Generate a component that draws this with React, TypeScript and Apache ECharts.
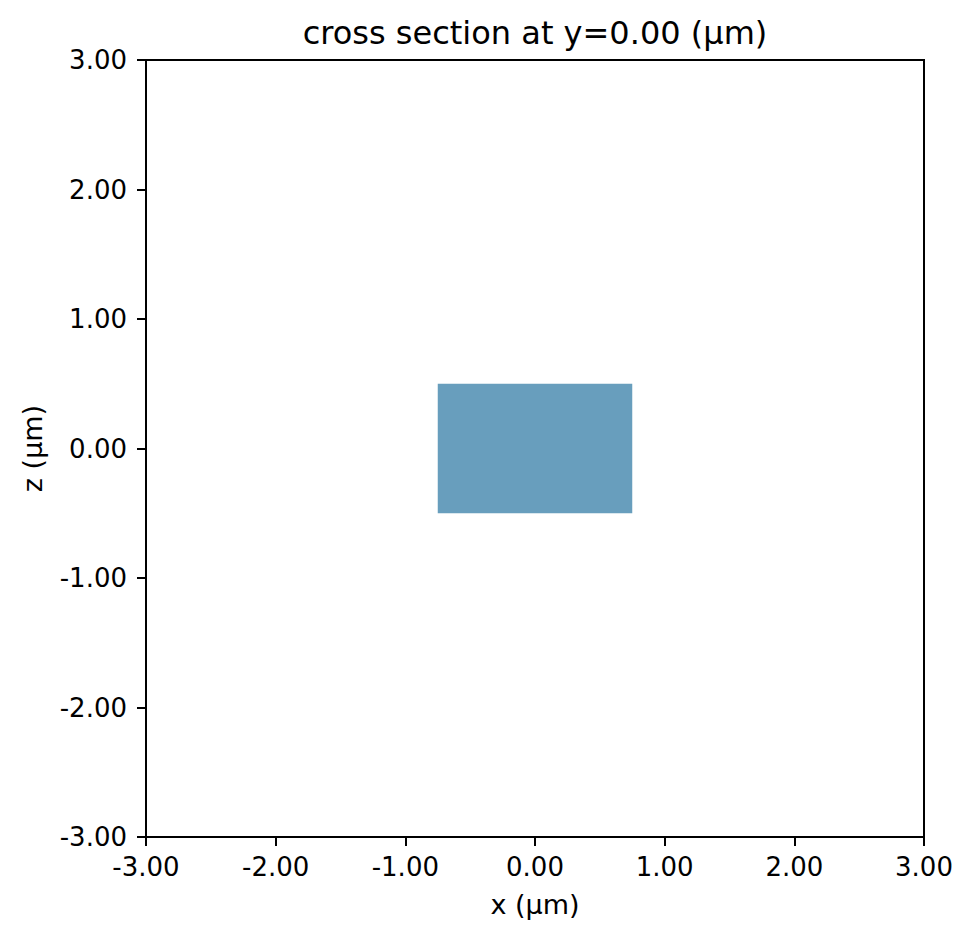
import React, { useEffect, useRef } from "react";
import * as echarts from "echarts";

// structure bounds in µm: [xMin, xMax, zMin, zMax]
const boxes = [[-0.75, 0.75, -0.5, 0.5]];
const boxColors = ["#689EBD"];
const xRange = [-3, 3];
const zRange = [-3, 3];
const titleText = "cross section at y=0.00 (µm)";
const xName = "x (µm)";
const zName = "z (µm)";

const FONT = "DejaVu Sans";

const App: React.FC = () => {
  const chartRef = useRef<HTMLDivElement>(null);

  useEffect(() => {
    document.body.style.margin = "0";
    const chart = echarts.init(chartRef.current!, undefined, { renderer: "svg" });

    const axisCommon = {
      type: "value" as const,
      interval: 1,
      axisLine: { show: true, onZero: false, lineStyle: { color: "#000", width: 2 } },
      axisTick: { show: true, length: 9, lineStyle: { color: "#000", width: 2 } },
      splitLine: { show: false },
      nameLocation: "middle" as const,
      nameTextStyle: { fontFamily: FONT, fontSize: 27, color: "#000" },
    };

    chart.setOption({
      animation: false,
      backgroundColor: "#fff",
      title: {
        text: titleText,
        left: 535,
        top: 17,
        padding: 0,
        textAlign: "center",
        textStyle: { fontFamily: FONT, fontSize: 32, fontWeight: "normal", color: "#000" },
      },
      grid: {
        left: 146,
        top: 60,
        width: 778,
        height: 777,
        show: true,
        borderColor: "#000",
        borderWidth: 2,
        backgroundColor: "transparent",
      },
      xAxis: {
        ...axisCommon,
        min: xRange[0],
        max: xRange[1],
        name: xName,
        nameGap: 54,
        axisLabel: {
          fontFamily: FONT,
          fontSize: 26,
          color: "#000",
          margin: 17,
          formatter: (v: number) => v.toFixed(2),
        },
      },
      yAxis: {
        ...axisCommon,
        min: zRange[0],
        max: zRange[1],
        name: zName,
        nameGap: 100,
        axisLabel: {
          fontFamily: FONT,
          fontSize: 26,
          color: "#000",
          margin: 19,
          formatter: (v: number) => v.toFixed(2),
        },
      },
      series: [
        {
          type: "custom",
          data: boxes,
          encode: { x: [0, 1], y: [2, 3] },
          renderItem: (params: any, api: any) => {
            const p0 = api.coord([api.value(0), api.value(3)]);
            const p1 = api.coord([api.value(1), api.value(2)]);
            return {
              type: "rect",
              shape: { x: p0[0], y: p0[1], width: p1[0] - p0[0], height: p1[1] - p0[1] },
              style: { fill: boxColors[params.dataIndex % boxColors.length] },
            };
          },
        },
      ],
    });

    return () => {
      chart.dispose();
    };
  }, []);

  return <div ref={chartRef} style={{ width: 973, height: 940 }} />;
};

export default App;
